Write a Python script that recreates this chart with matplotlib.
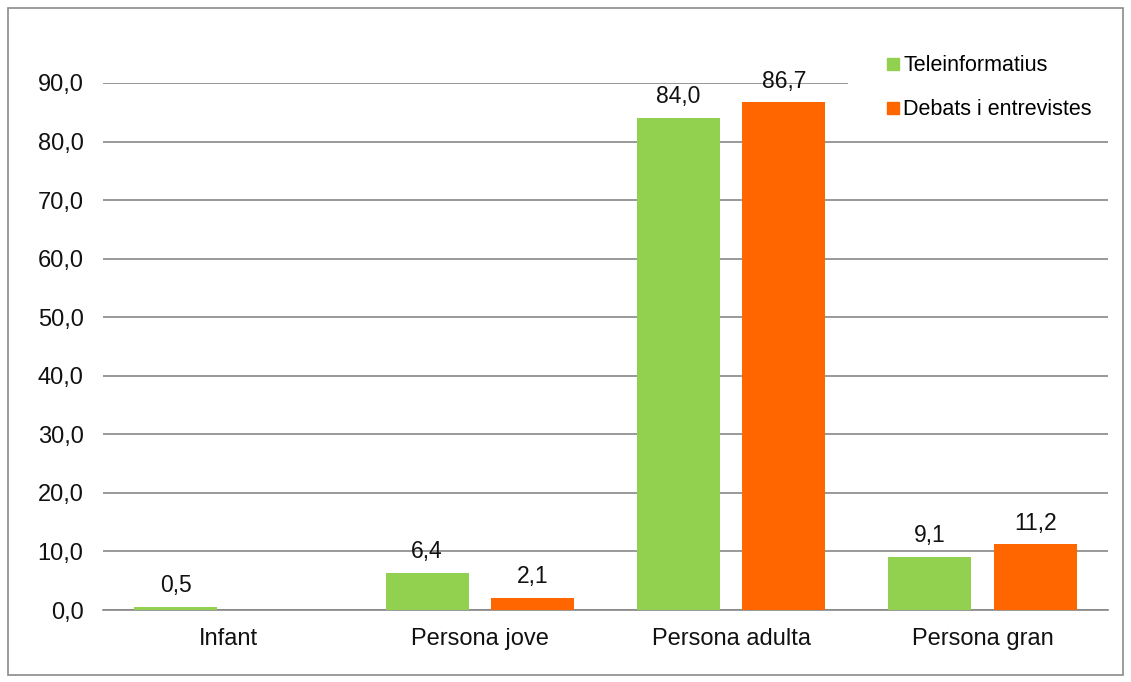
import matplotlib
matplotlib.use("Agg")
import matplotlib.pyplot as plt
from matplotlib.lines import Line2D
from matplotlib.patches import Rectangle
import numpy as np

plt.rcParams['font.family'] = ['Liberation Sans', 'DejaVu Sans']

categories = ["Infant", "Persona jove", "Persona adulta", "Persona gran"]
series_names = ["Teleinformatius", "Debats i entrevistes"]
teleinformatius = [0.5, 6.4, 84.0, 9.1]
debats = [None, 2.1, 86.7, 11.2]
yticks = [0, 10, 20, 30, 40, 50, 60, 70, 80, 90]

green = "#92D050"
orange = "#FF6600"
grid_c = "#878787"

W, H = 1131, 682
fig = plt.figure(figsize=(W / 100, H / 100), dpi=100)
ax = fig.add_axes([103 / W, 1 - 610 / H, (1108 - 103) / W, (610 - 83) / H])

x = np.arange(len(categories))
bw = 0.33
off = 0.21

def fmt(v):
    return f"{v:.1f}".replace(".", ",")

for vals, c, sgn in [(teleinformatius, green, -1), (debats, orange, 1)]:
    for xi, v in zip(x, vals):
        if v is None:
            continue
        ax.bar(xi + sgn * off, v, width=bw, color=c, zorder=3)
        ax.annotate(fmt(v), (xi + sgn * off, v), xytext=(0, 7), textcoords="offset points",
                    ha="center", va="bottom", fontsize=16.5, color="#111111",
                    annotation_clip=False, zorder=5)

ax.set_xlim(-0.5, 3.5)
ax.set_ylim(0, 90)
ax.set_yticks(yticks)
ax.set_yticklabels([fmt(v) for v in yticks], fontsize=17, color="#111111")
ax.set_xticks(x)
ax.set_xticklabels(categories, fontsize=17, color="#111111")
ax.tick_params(axis="both", length=0)
ax.tick_params(axis="x", pad=13)
ax.tick_params(axis="y", pad=14)
ax.grid(axis="y", color=grid_c, linewidth=1.2, zorder=0)
for s in ["top", "right", "left"]:
    ax.spines[s].set_visible(False)
ax.spines["bottom"].set_color(grid_c)
ax.spines["bottom"].set_linewidth(1.2)
ax.set_axisbelow(True)

# white legend area covering the gridline, as in the reference
fig.patches.append(Rectangle((848 / W, 1 - 128 / H), (1112 - 848) / W, (128 - 45) / H,
                             transform=fig.transFigure, facecolor="white", edgecolor="none", zorder=8))

handles = [Line2D([], [], marker="s", linestyle="none", markersize=8.5, color=c) for c in (green, orange)]
leg = fig.legend(handles, series_names, loc="upper left", bbox_to_anchor=(874 / W, 1 - 49 / H),
                 frameon=False, fontsize=15.5, handletextpad=-0.15, handlelength=1.2,
                 labelspacing=1.05, borderpad=0.3, borderaxespad=0)
leg.set_zorder(10)

fig.patches.append(Rectangle((8 / W, 1 - 675 / H), (1123 - 8) / W, (675 - 8) / H,
                             transform=fig.transFigure, fill=False, edgecolor="#8a8a8a", linewidth=1.2))

fig.savefig("out.png", dpi=100)
